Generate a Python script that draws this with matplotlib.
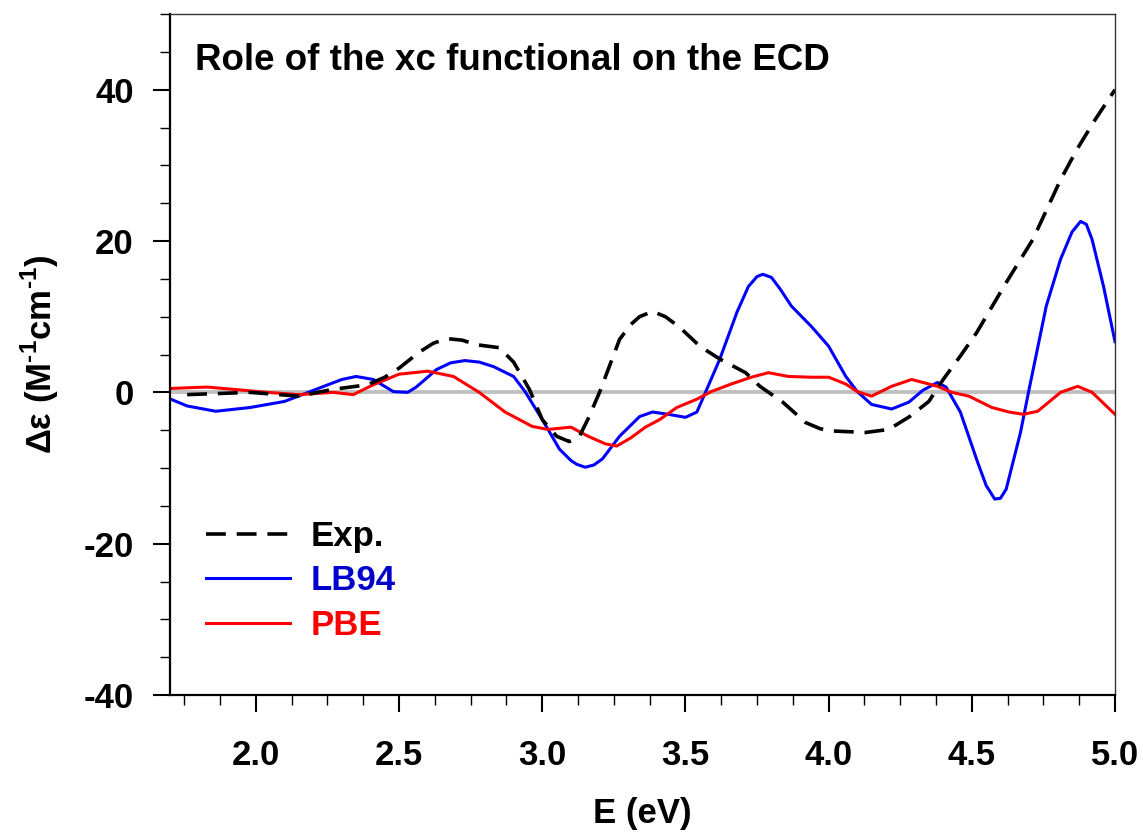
import matplotlib
matplotlib.use("Agg")
import matplotlib.pyplot as plt
from matplotlib.ticker import MultipleLocator, FormatStrFormatter

plt.rcParams['font.family'] = ['Liberation Sans', 'DejaVu Sans']
plt.rcParams['font.weight'] = 'bold'
plt.rcParams['mathtext.fontset'] = 'custom'
plt.rcParams['mathtext.rm'] = 'Liberation Sans:bold'
plt.rcParams['mathtext.bf'] = 'Liberation Sans:bold'

# experimental spectrum
exp_e = [1.76, 1.98, 2.15, 2.27, 2.39, 2.45, 2.50, 2.57, 2.62, 2.668, 2.72, 2.77, 2.85, 2.90,
         2.955, 3.0, 3.05, 3.094, 3.13, 3.16, 3.2, 3.27, 3.31, 3.34, 3.385, 3.43, 3.48, 3.55,
         3.62, 3.71, 3.76, 3.84, 3.92, 3.97, 4.01, 4.13, 4.21, 4.283, 4.35, 4.40, 4.46, 4.517,
         4.62, 4.713, 4.81, 4.867, 4.93, 5.0]
exp_de = [-0.3, 0.0, -0.5, 0.4, 1.0, 2.0, 3.2, 5.3, 6.5, 7.1, 6.9, 6.3, 5.9, 4.0,
          0.4, -3.6, -5.8, -6.5, -5.8, -3.5, 0.0, 7.0, 9.0, 10.0, 10.7, 10.0, 8.6, 6.1,
          4.4, 2.6, 0.8, -1.3, -4.0, -4.8, -5.1, -5.3, -4.9, -3.2, -1.2, 1.7, 4.8, 7.9,
          14.5, 20.2, 28.1, 32.1, 36.0, 40.0]

# LB94
lb_e = [1.69, 1.76, 1.86, 1.98, 2.10, 2.21, 2.30, 2.35, 2.41, 2.48, 2.53, 2.56, 2.60, 2.63,
        2.68, 2.73, 2.78, 2.83, 2.90, 2.94, 3.0, 3.06, 3.10, 3.12, 3.15, 3.18, 3.21, 3.27,
        3.34, 3.385, 3.44, 3.50, 3.54, 3.57, 3.62, 3.68, 3.72, 3.75, 3.77, 3.80, 3.83, 3.87,
        3.94, 4.0, 4.06, 4.10, 4.15, 4.22, 4.28, 4.33, 4.38, 4.41, 4.46, 4.52, 4.55, 4.58,
        4.60, 4.62, 4.67, 4.70, 4.76, 4.81, 4.85, 4.88, 4.90, 4.92, 4.96, 5.0]
lb_de = [-0.7, -1.8, -2.5, -2.0, -1.2, 0.4, 1.7, 2.1, 1.7, 0.1, 0.0, 0.7, 2.0, 3.0,
         3.9, 4.2, 4.0, 3.4, 2.1, 0.1, -3.6, -7.5, -9.0, -9.5, -9.9, -9.6, -8.8, -5.8,
         -3.2, -2.6, -2.9, -3.3, -2.6, 0.0, 4.4, 10.6, 14.0, 15.3, 15.6, 15.2, 13.7, 11.4,
         8.7, 6.1, 2.1, 0.1, -1.6, -2.2, -1.3, 0.3, 1.3, 0.7, -2.6, -9.2, -12.3, -14.1,
         -14.0, -12.8, -5.3, 0.4, 11.4, 17.6, 21.2, 22.6, 22.2, 20.2, 14.0, 6.7]

# PBE
pbe_e = [1.69, 1.83, 1.92, 2.04, 2.15, 2.27, 2.34, 2.41, 2.50, 2.60, 2.69, 2.78, 2.87, 2.965,
         3.02, 3.10, 3.16, 3.22, 3.26, 3.31, 3.36, 3.41, 3.47, 3.54, 3.59, 3.66, 3.73, 3.79,
         3.86, 3.94, 4.0, 4.06, 4.10, 4.15, 4.22, 4.29, 4.38, 4.43, 4.49, 4.57, 4.63, 4.68,
         4.73, 4.81, 4.87, 4.92, 5.0]
pbe_de = [0.5, 0.7, 0.4, 0.0, -0.3, 0.0, -0.3, 1.0, 2.4, 2.8, 2.1, 0.0, -2.6, -4.5,
          -4.9, -4.6, -5.8, -6.8, -7.1, -6.0, -4.6, -3.6, -2.0, -0.9, 0.1, 1.1, 2.0, 2.6,
          2.1, 2.0, 2.0, 1.1, 0.1, -0.5, 0.8, 1.7, 0.8, 0.0, -0.5, -2.0, -2.6, -2.9,
          -2.5, 0.0, 0.8, 0.0, -2.9]

fs = 25

fig = plt.figure(figsize=(11.43, 8.39), dpi=100)
ax = fig.add_axes([0.1487, 0.1716, 0.8268, 0.8117])

ax.axhline(0, color='#c0c0c0', lw=2.8, zorder=1)
ax.plot(exp_e, exp_de, color='black', lw=2.6, dashes=(5.5, 3.0), label='Exp.', zorder=3)
ax.plot(lb_e, lb_de, color='#0000ff', lw=2.2, label='LB94', zorder=2)
ax.plot(pbe_e, pbe_de, color='#ff0000', lw=2.2, label='PBE', zorder=2)

ax.set_xlim(1.7, 5.0)
ax.set_ylim(-40, 50)
ax.xaxis.set_major_locator(MultipleLocator(0.5))
ax.xaxis.set_minor_locator(MultipleLocator(0.125))
ax.xaxis.set_major_formatter(FormatStrFormatter('%.1f'))
ax.set_yticks([-40, -20, 0, 20, 40])
ax.set_yticklabels(['-40', '-20', '0', '20', '40'])
ax.yaxis.set_minor_locator(MultipleLocator(5))

ax.tick_params(which='major', direction='out', length=12, width=1.5, labelsize=fs, pad=14)
ax.tick_params(which='minor', direction='out', length=7, width=1.0)
ax.tick_params(axis='x', which='major', pad=20)
ax.tick_params(top=False, right=False)

for s in ['left', 'bottom']:
    ax.spines[s].set_linewidth(1.6)
for s in ['top', 'right']:
    ax.spines[s].set_linewidth(1.0)
    ax.spines[s].set_color('#333333')

ax.set_xlabel('E (eV)', fontsize=fs, fontweight='bold', labelpad=18)
ax.set_ylabel('\u0394\u03b5 (M$^{\\text{-1}}$cm$^{\\text{-1}}$)', fontsize=fs,
              fontweight='bold', labelpad=16)

ax.text(0.026, 0.932, 'Role of the xc functional on the ECD', transform=ax.transAxes,
        fontsize=26.5, fontweight='bold', va='center', ha='left')

leg = ax.legend(loc='upper left', bbox_to_anchor=(0.02, 0.283), frameon=False, fontsize=fs,
                handlelength=2.4, handletextpad=0.6, labelspacing=0.34, borderpad=0,
                labelcolor=['black', '#0000cc', '#ff0000'])

fig.savefig('out.png', dpi=100)
